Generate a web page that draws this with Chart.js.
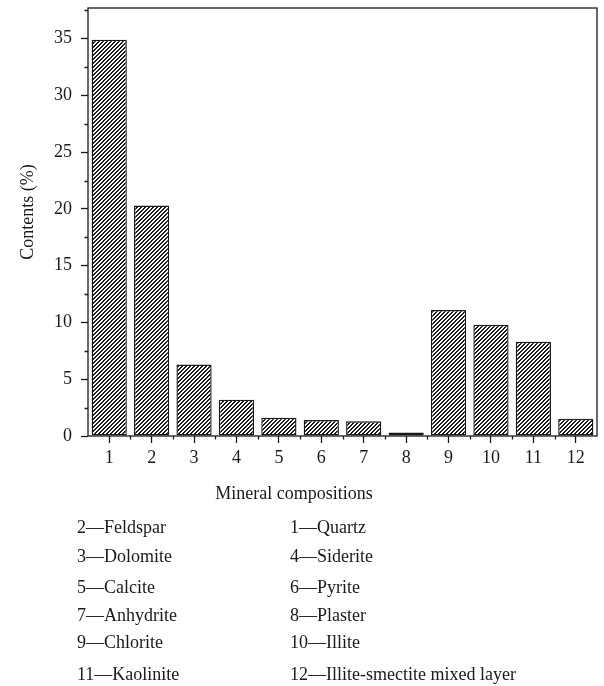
<!DOCTYPE html>
<html>
<head>
<meta charset="utf-8">
<script src="https://cdn.jsdelivr.net/npm/chart.js@4.4.1/dist/chart.umd.min.js"></script>
<style>
    html, body { margin: 0; padding: 0; background: #fff; }
    #wrap { width: 604px; height: 686px; }
</style>
</head>
<body>
<div id="wrap"><canvas id="mineralChart" width="604" height="686"></canvas></div>
<script>
const categories = ['1', '2', '3', '4', '5', '6', '7', '8', '9', '10', '11', '12'];
const contents = [34.9, 20.3, 6.3, 3.2, 1.6, 1.4, 1.3, 0.3, 11.1, 9.8, 8.3, 1.5];
const yMajorStep = 5;
const yMax = 37.7;
const keyLeft = ['2\u2014Feldspar', '3\u2014Dolomite', '5\u2014Calcite', '7\u2014Anhydrite', '9\u2014Chlorite', '11\u2014Kaolinite'];
const keyRight = ['1\u2014Quartz', '4\u2014Siderite', '6\u2014Pyrite', '8\u2014Plaster', '10\u2014Illite', '12\u2014Illite-smectite mixed layer'];

const INK = '#1a1a1a';
const FONT = '"Liberation Serif", "Times New Roman", serif';

// diagonal "/" hatch used to fill the bars
function makeHatch() {
    const c = document.createElement('canvas');
    c.width = c.height = 4;
    const g = c.getContext('2d');
    g.fillStyle = '#fff';
    g.fillRect(0, 0, 4, 4);
    g.fillStyle = '#1c1c1c';
    for (let y = 0; y < 4; y++) {
        g.fillRect((3 - y) % 4, y, 1, 1);
        g.fillRect((4 - y) % 4, y, 1, 1);
    }
    return g.createPattern(c, 'repeat');
}

// box frame, minor ticks, axis titles and the numbered key
const decorations = {
    id: 'decorations',
    afterDatasetsDraw(chart) {
        const { ctx, chartArea: a, scales } = chart;
        ctx.save();
        ctx.strokeStyle = INK;
        ctx.lineWidth = 1.3;
        ctx.strokeRect(a.left, a.top, a.right - a.left, a.bottom - a.top);

        ctx.beginPath();
        for (let v = yMajorStep / 2; v < yMax; v += yMajorStep) {
            const py = Math.round(scales.y.getPixelForValue(v)) + 0.5;
            ctx.moveTo(a.left - 3.5, py);
            ctx.lineTo(a.left, py);
        }
        for (let i = 1; i < categories.length; i++) {
            const px = Math.round((scales.x.getPixelForValue(i - 1) + scales.x.getPixelForValue(i)) / 2) + 0.5;
            ctx.moveTo(px, a.bottom);
            ctx.lineTo(px, a.bottom + 3.5);
        }
        ctx.stroke();
        ctx.restore();
    },
    afterDraw(chart) {
        const { ctx, chartArea: a } = chart;
        ctx.save();
        ctx.fillStyle = INK;
        ctx.font = '18px ' + FONT;
        ctx.textBaseline = 'alphabetic';

        ctx.textAlign = 'center';
        ctx.fillText('Mineral compositions', 294, 499);

        ctx.save();
        ctx.translate(33, (a.top + a.bottom) / 2 - 10);
        ctx.rotate(-Math.PI / 2);
        ctx.fillText('Contents (%)', 0, 0);
        ctx.restore();

        const rows = [533, 562, 593, 621, 648, 680];
        ctx.textAlign = 'left';
        keyLeft.forEach((t, i) => ctx.fillText(t, 77, rows[i]));
        keyRight.forEach((t, i) => ctx.fillText(t, 290, rows[i]));
        ctx.restore();
    }
};

const ctx = document.getElementById('mineralChart').getContext('2d');
new Chart(ctx, {
    type: 'bar',
    data: {
        labels: categories,
        datasets: [{
            data: contents,
            backgroundColor: makeHatch(),
            borderColor: INK,
            borderWidth: 1.4,
            borderSkipped: false,
            barPercentage: 0.83,
            categoryPercentage: 1
        }]
    },
    options: {
        responsive: false,
        animation: false,
        devicePixelRatio: 1,
        layout: { padding: { top: 8, right: 7, bottom: 220, left: 0 } },
        scales: {
            x: {
                offset: true,
                border: { display: false },
                grid: { drawOnChartArea: false, offset: false, tickLength: 7, tickWidth: 1.3, tickColor: INK },
                ticks: { color: INK, font: { family: FONT, size: 18 }, padding: 4, maxRotation: 0 },
                afterFit(s) {
                    s.height = 30;
                    s.paddingLeft = 0;
                    s.paddingRight = 0;
                }
            },
            y: {
                min: 0,
                max: yMax,
                border: { display: false },
                grid: { drawOnChartArea: false, tickLength: 7, tickWidth: 1.3, tickColor: INK },
                ticks: { stepSize: yMajorStep, color: INK, font: { family: FONT, size: 18 }, padding: 9 },
                afterBuildTicks(s) { s.ticks = s.ticks.filter(t => t.value % yMajorStep === 0); },
                afterFit(s) {
                    s.width = 88;
                    s.paddingTop = 0;
                    s.paddingBottom = 0;
                }
            }
        },
        plugins: {
            legend: { display: false },
            tooltip: { enabled: false }
        }
    },
    plugins: [decorations]
});
</script>
</body>
</html>
